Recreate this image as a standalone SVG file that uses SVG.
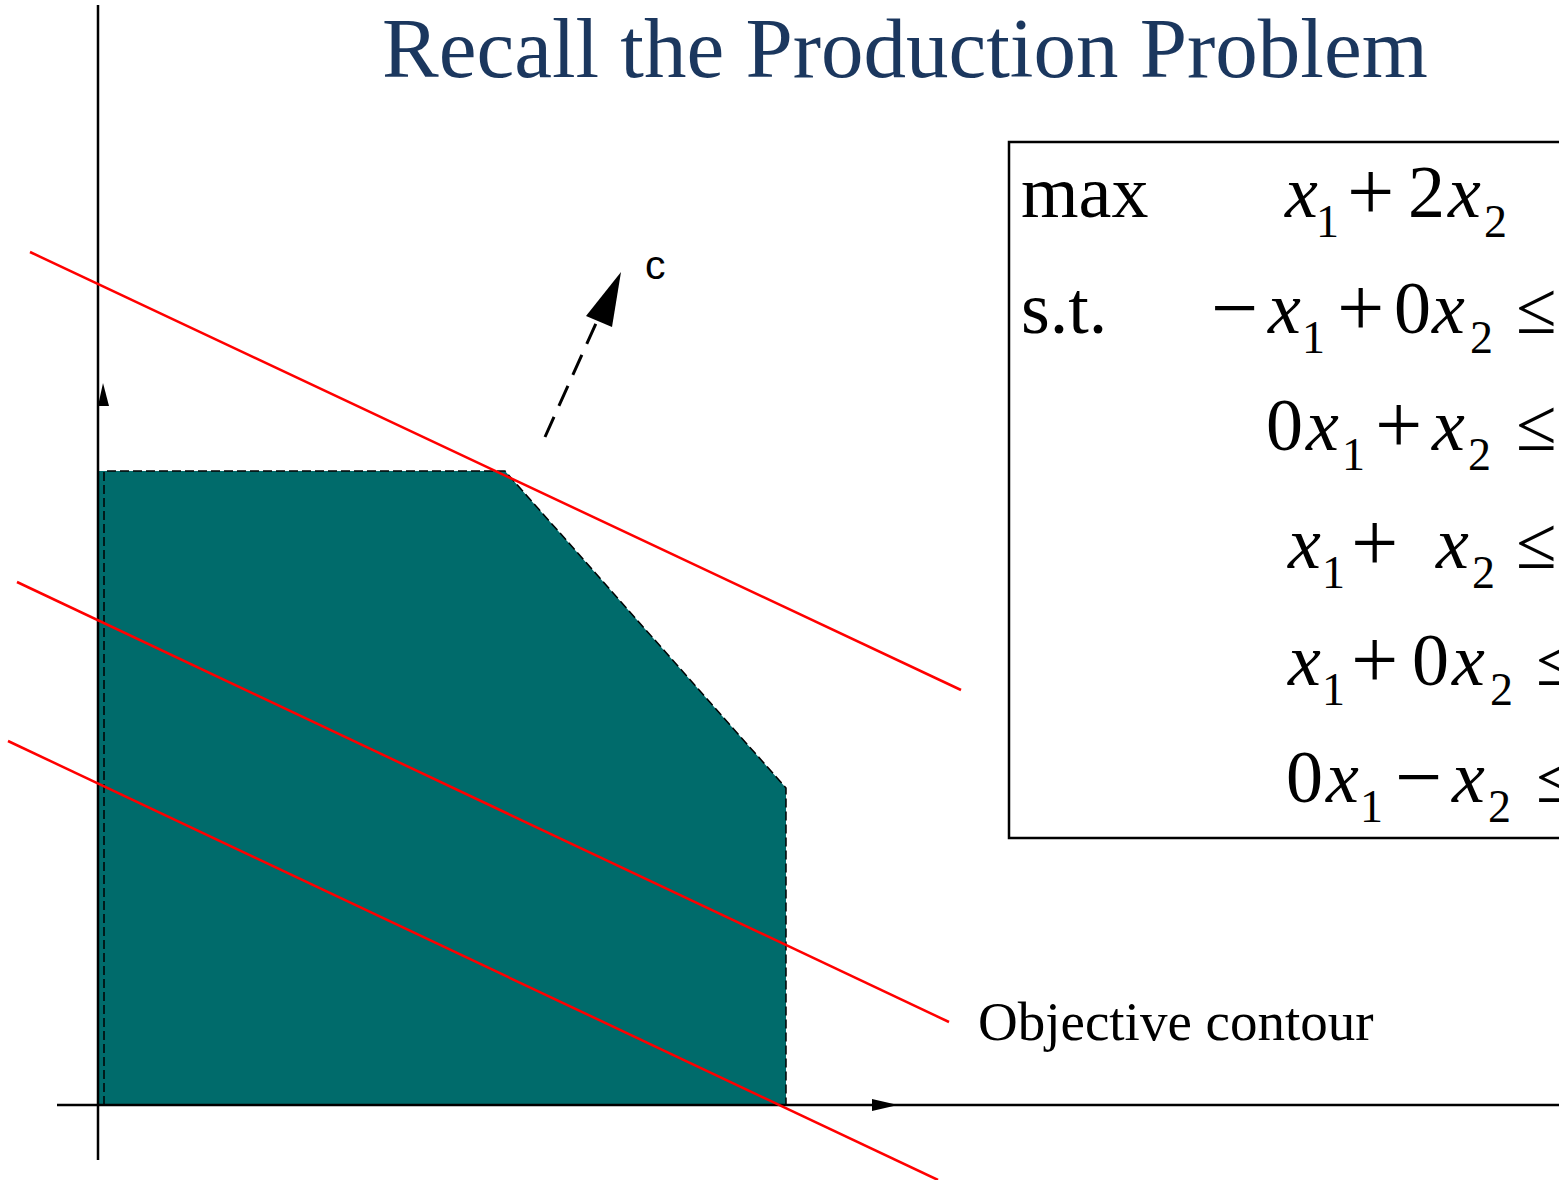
<svg xmlns="http://www.w3.org/2000/svg" width="1559" height="1180" viewBox="0 0 1559 1180">
<style>
.serif{font-family:"Liberation Serif","Times New Roman",serif;fill:#000}
.m{font-family:"Liberation Serif","Times New Roman",serif;font-size:74px;fill:#000}
.i{font-style:italic}
.s{font-size:46px}
.o{font-size:84px}
.red{stroke:#ff0000;stroke-width:2.5;fill:none}
.axis{stroke:#000;stroke-width:2.5;fill:none}
.dash{stroke:#000;stroke-width:1.5;stroke-dasharray:9 4;fill:none}
</style>
<rect width="1559" height="1180" fill="#fff"/>
<text x="382" y="77" font-family="Liberation Serif, Times New Roman, serif" font-size="85" fill="#1b375e">Recall the Production Problem</text>

<g id="region">
<polygon points="98,471 505,471 786,788 786,1105 98,1105" fill="#006b6b"/>
<polyline class="dash" points="104,1105 104,471 505,471 786,788 786,1105 104,1105"/>
</g>

<g id="axes">
<line class="axis" x1="98" y1="5" x2="98" y2="1160"/>
<polygon points="98,406 109,406 103,383" fill="#000"/>
<line class="axis" x1="57" y1="1105" x2="1559" y2="1105"/>
<polygon points="872,1099 872,1111 898,1105" fill="#000"/>
</g>

<g id="connectors">
<line class="red" x1="30" y1="252" x2="961" y2="690"/>
<line class="red" x1="17" y1="582" x2="949" y2="1022"/>
<line class="red" x1="8" y1="741" x2="938" y2="1180"/>
<line x1="545" y1="437" x2="602" y2="310" stroke="#000" stroke-width="3" stroke-dasharray="22 12"/>
<polygon points="621,272 586,316 612,327" fill="#000"/>
</g>

<g id="label-c">
<text x="645" y="279" font-family="Liberation Sans, Arial, sans-serif" font-size="41" fill="#000">c</text>
</g>

<g id="label-objective">
<text class="serif" x="978" y="1040" font-size="55">Objective contour</text>
</g>

<g id="problem-box">
<rect x="1009" y="142" width="560" height="696" fill="none" stroke="#000" stroke-width="2.5"/>
<text class="m" x="1021" y="217">max</text>
<text class="m" x="1021" y="333">s.t.</text>
<!-- row 1 -->
<text class="m"><tspan class="i" x="1285" y="217">x</tspan><tspan class="s" x="1316" y="237">1</tspan><tspan class="o" x="1347" y="220">+</tspan><tspan x="1408" y="217">2</tspan><tspan class="i" x="1448" y="217">x</tspan><tspan class="s" x="1484" y="237">2</tspan></text>
<!-- row 2 -->
<text class="m"><tspan class="o" x="1211" y="336">−</tspan><tspan class="i" x="1268" y="333">x</tspan><tspan class="s" x="1302" y="353">1</tspan><tspan class="o" x="1337" y="336">+</tspan><tspan x="1394" y="333">0</tspan><tspan class="i" x="1432" y="333">x</tspan><tspan class="s" x="1470" y="353">2</tspan><tspan x="1516" y="333">≤</tspan></text>
<!-- row 3 -->
<text class="m"><tspan x="1266" y="450">0</tspan><tspan class="i" x="1306" y="450">x</tspan><tspan class="s" x="1342" y="470">1</tspan><tspan class="o" x="1375" y="453">+</tspan><tspan class="i" x="1432" y="450">x</tspan><tspan class="s" x="1468" y="470">2</tspan><tspan x="1516" y="450">≤</tspan></text>
<!-- row 4 -->
<text class="m"><tspan class="i" x="1288" y="568">x</tspan><tspan class="s" x="1322" y="588">1</tspan><tspan class="o" x="1351" y="571">+</tspan><tspan class="i" x="1436" y="568">x</tspan><tspan class="s" x="1472" y="588">2</tspan><tspan x="1516" y="568">≤</tspan></text>
<!-- row 5 -->
<text class="m"><tspan class="i" x="1288" y="685">x</tspan><tspan class="s" x="1322" y="705">1</tspan><tspan class="o" x="1351" y="688">+</tspan><tspan x="1412" y="685">0</tspan><tspan class="i" x="1452" y="685">x</tspan><tspan class="s" x="1490" y="705">2</tspan><tspan x="1536" y="685">≤</tspan></text>
<!-- row 6 -->
<text class="m"><tspan x="1286" y="802">0</tspan><tspan class="i" x="1326" y="802">x</tspan><tspan class="s" x="1360" y="822">1</tspan><tspan class="o" x="1395" y="805">−</tspan><tspan class="i" x="1452" y="802">x</tspan><tspan class="s" x="1488" y="822">2</tspan><tspan x="1536" y="802">≤</tspan></text>
</g>
</svg>
